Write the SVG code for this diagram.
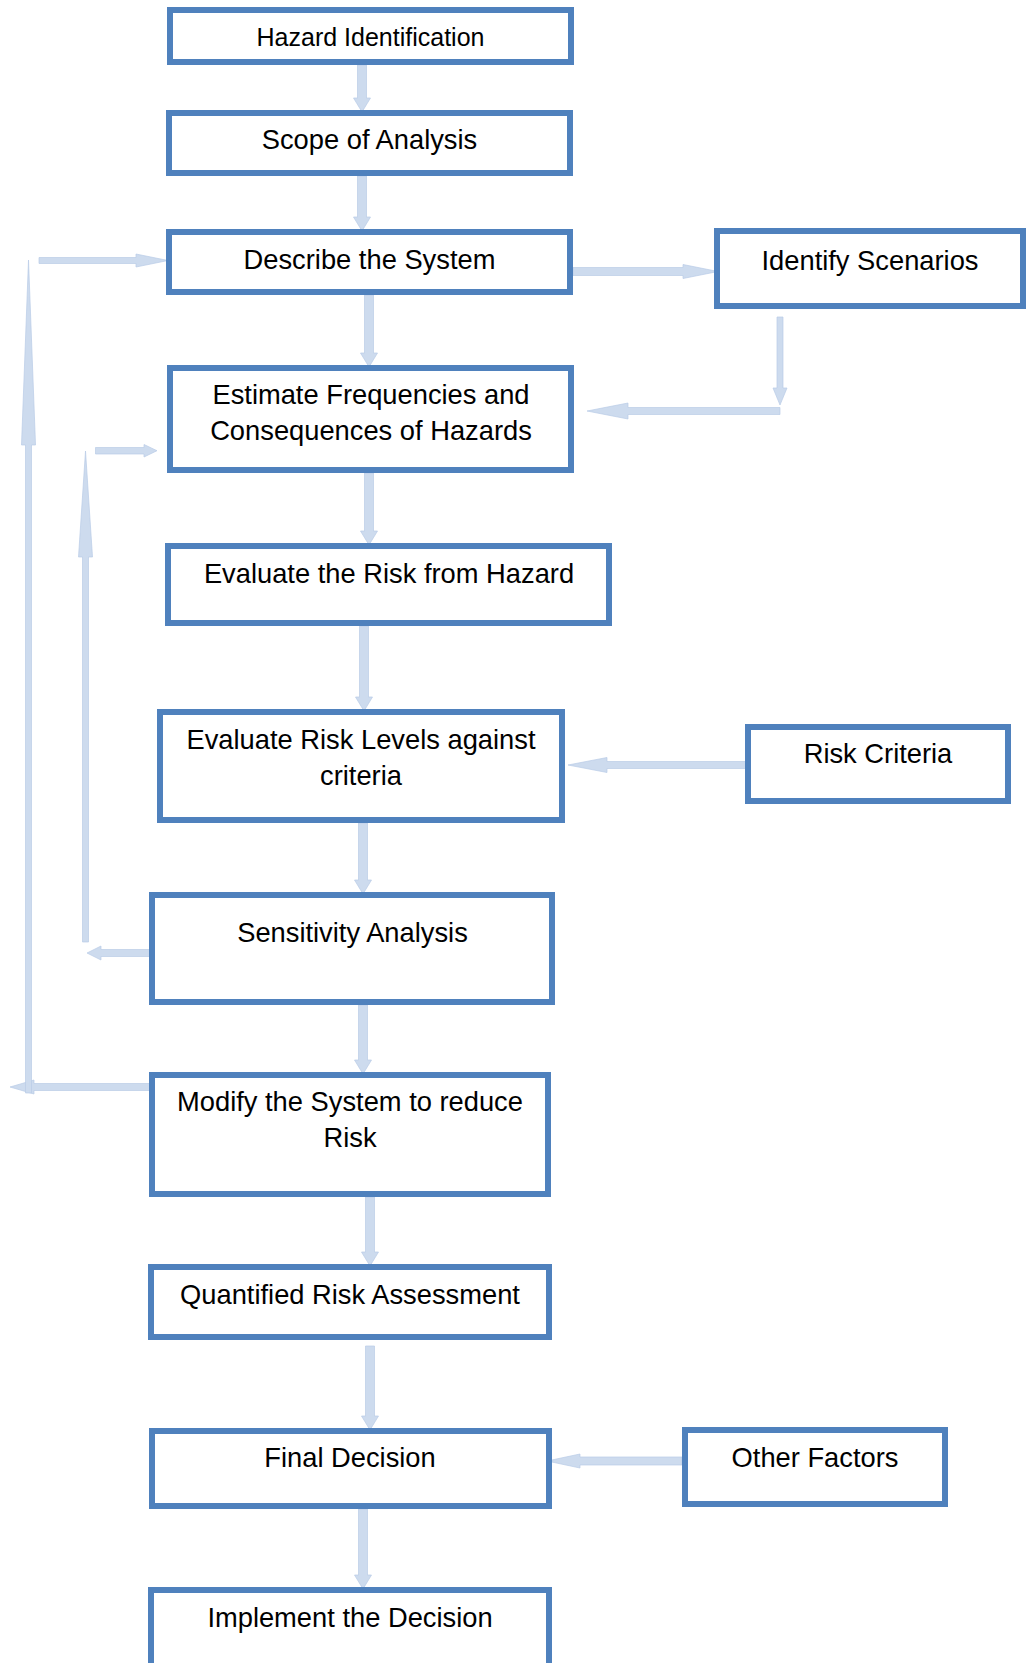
<svg xmlns="http://www.w3.org/2000/svg" width="1026" height="1663" viewBox="0 0 1026 1663">
<style>
.box{fill:#ffffff;stroke:#4f81bd;stroke-width:6}
.t{font-family:"Liberation Sans",Arial,sans-serif;font-size:27.3px;fill:#000;text-anchor:middle}
.ar{fill:#cddbee;stroke:#b9cce6;stroke-width:0.7}
</style>
<rect width="1026" height="1663" fill="#ffffff"/>
<g id="connectors">
<!-- vertical down arrows -->
<polygon class="ar" points="357.5,65 366.5,65 366.5,98 370.5,98 362,112 353.5,98 357.5,98"/>
<polygon class="ar" points="357.5,176 366.5,176 366.5,217 370.5,217 362,231 353.5,217 357.5,217"/>
<polygon class="ar" points="364.5,295 373.5,295 373.5,353 377.5,353 369,367 360.5,353 364.5,353"/>
<polygon class="ar" points="364.5,473 373.5,473 373.5,531 377.5,531 369,545 360.5,531 364.5,531"/>
<polygon class="ar" points="359.5,626 368.5,626 368.5,697 372.5,697 364,711 355.5,697 359.5,697"/>
<polygon class="ar" points="358.5,823 367.5,823 367.5,880 371.5,880 363,894 354.5,880 358.5,880"/>
<polygon class="ar" points="358.5,1005 367.5,1005 367.5,1060 371.5,1060 363,1074 354.5,1060 358.5,1060"/>
<polygon class="ar" points="365.5,1197 374.5,1197 374.5,1252 378.5,1252 370,1266 361.5,1252 365.5,1252"/>
<polygon class="ar" points="365.5,1346 374.5,1346 374.5,1416 378.5,1416 370,1430 361.5,1416 365.5,1416"/>
<polygon class="ar" points="358.5,1509 367.5,1509 367.5,1575 371.5,1575 363,1589 354.5,1575 358.5,1575"/>
<!-- Describe -> Identify -->
<polygon class="ar" points="573,267.5 683,267.5 683,264.5 718,271.5 683,278.5 683,275.5 573,275.5"/>
<!-- Identify -> down -->
<polygon class="ar" points="777,317 783,317 783,388 787,388 780,405 773,388 777,388"/>
<!-- back to Estimate -->
<polygon class="ar" points="780,407.5 628,407.5 628,403 587,411 628,419 628,414.5 780,414.5"/>
<!-- Risk Criteria -> Levels -->
<polygon class="ar" points="746,761.5 607,761.5 607,757.5 568,765 607,772.5 607,768.5 746,768.5"/>
<!-- Other Factors -> Final -->
<polygon class="ar" points="682,1457 580,1457 580,1454 547,1461 580,1468 580,1465 682,1465"/>
<!-- Modify -> left -->
<polygon class="ar" points="150,1083.5 34,1083.5 34,1080 10,1087 34,1094 34,1090.5 150,1090.5"/>
<!-- big left vertical -->
<polygon class="ar" points="25.5,1093 31.5,1093 31.5,445 35.5,445 28.5,260 21.5,445 25.5,445"/>
<!-- top horizontal into Describe -->
<polygon class="ar" points="39,257.5 136,257.5 136,254 168,260.5 136,267 136,263.5 39,263.5"/>
<!-- Sensitivity -> left -->
<polygon class="ar" points="151,949.5 101,949.5 101,946 87,953 101,960 101,956.5 151,956.5"/>
<!-- second vertical -->
<polygon class="ar" points="82.5,942 88.5,942 88.5,557 92.5,557 85.5,451 78.5,557 82.5,557"/>
<!-- into Estimate -->
<polygon class="ar" points="95.5,447.5 144,447.5 144,444.5 157,450.7 144,457 144,454 95.5,454"/>
</g>
<g id="hazard-identification"><rect class="box" x="170" y="10" width="401" height="52"/><text class="t" x="370.5" y="45.7" style="font-size:25px">Hazard Identification</text></g>
<g id="scope-of-analysis"><rect class="box" x="169" y="113" width="401" height="60"/><text class="t" x="369.5" y="149">Scope of Analysis</text></g>
<g id="describe-the-system"><rect class="box" x="169" y="232" width="401" height="60"/><text class="t" x="369.5" y="268.5">Describe the System</text></g>
<g id="identify-scenarios"><rect class="box" x="717" y="231" width="306" height="75"/><text class="t" x="870" y="270">Identify Scenarios</text></g>
<g id="estimate-frequencies"><rect class="box" x="170" y="368" width="401" height="102"/><text class="t" x="371" y="404">Estimate Frequencies and</text><text class="t" x="371" y="440">Consequences of Hazards</text></g>
<g id="evaluate-risk-from-hazard"><rect class="box" x="168" y="546" width="441" height="77"/><text class="t" x="389" y="582.7">Evaluate the Risk from Hazard</text></g>
<g id="evaluate-risk-levels"><rect class="box" x="160" y="712" width="402" height="108"/><text class="t" x="361" y="749">Evaluate Risk Levels against</text><text class="t" x="361" y="785">criteria</text></g>
<g id="risk-criteria"><rect class="box" x="748" y="727" width="260" height="74"/><text class="t" x="878" y="762.7">Risk Criteria</text></g>
<g id="sensitivity-analysis"><rect class="box" x="152" y="895" width="400" height="107"/><text class="t" x="352.5" y="942">Sensitivity Analysis</text></g>
<g id="modify-the-system"><rect class="box" x="152" y="1075" width="396" height="119"/><text class="t" x="350" y="1110.5">Modify the System to reduce</text><text class="t" x="350" y="1147">Risk</text></g>
<g id="quantified-risk-assessment"><rect class="box" x="151" y="1267" width="398" height="70"/><text class="t" x="350" y="1304">Quantified Risk Assessment</text></g>
<g id="final-decision"><rect class="box" x="152" y="1431" width="397" height="75"/><text class="t" x="350" y="1467">Final Decision</text></g>
<g id="other-factors"><rect class="box" x="685" y="1430" width="260" height="74"/><text class="t" x="815" y="1466.7">Other Factors</text></g>
<g id="implement-the-decision"><rect class="box" x="151" y="1590" width="398" height="90"/><text class="t" x="350" y="1626.7">Implement the Decision</text></g>
</svg>
